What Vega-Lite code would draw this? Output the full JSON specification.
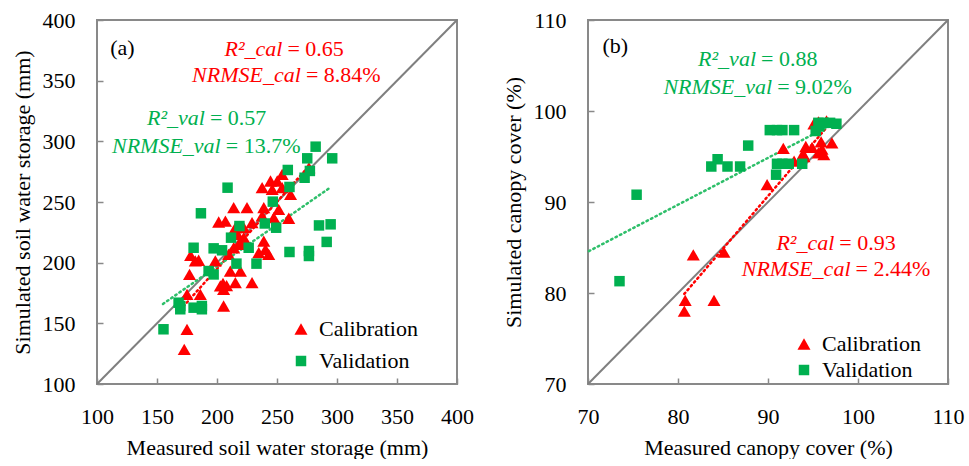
{
  "$schema": "https://vega.github.io/schema/vega-lite/v6.json",
  "padding": {"left": 10, "top": 8, "right": 0, "bottom": 0},
  "background": "white",
  "spacing": 26,
  "config": {
    "font": "Times New Roman",
    "view": {"stroke": "#898989", "strokeWidth": 2},
    "text": {"font": "Times New Roman"},
    "axis": {
      "domain": false, "grid": false, "ticks": true, "labelFlush": false,
      "tickSize": -6, "tickColor": "#898989", "tickWidth": 1.5,
      "labelFont": "Times New Roman", "labelFontSize": 22, "labelColor": "#000000",
      "labelPadding": 28,
      "titleFont": "Times New Roman", "titleFontSize": 22, "titleFontWeight": "normal", "titleColor": "#000000"
    },
    "legend": {"labelFont": "Times New Roman", "labelFontSize": 22, "labelColor": "#000000"}
  },
  "datasets": {
    "a_pts": [
      {"x":172.7,"y":128.6,"type":"Calibration"},{"x":175,"y":145.1,"type":"Calibration"},{"x":175,"y":173.9,"type":"Calibration"},
      {"x":177.1,"y":190.4,"type":"Calibration"},{"x":181.9,"y":201.4,"type":"Calibration"},{"x":178,"y":206,"type":"Calibration"},
      {"x":186.1,"y":173.9,"type":"Calibration"},{"x":202.8,"y":180.8,"type":"Calibration"},{"x":205.5,"y":178,"type":"Calibration"},
      {"x":205,"y":183,"type":"Calibration"},{"x":208,"y":181,"type":"Calibration"},{"x":205.5,"y":164.3,"type":"Calibration"},
      {"x":215.3,"y":183.5,"type":"Calibration"},{"x":229.2,"y":183.5,"type":"Calibration"},{"x":211.1,"y":193.1,"type":"Calibration"},
      {"x":219.5,"y":193.1,"type":"Calibration"},{"x":198.6,"y":201.4,"type":"Calibration"},{"x":209.7,"y":206.9,"type":"Calibration"},
      {"x":213.9,"y":212.3,"type":"Calibration"},{"x":220.1,"y":215.1,"type":"Calibration"},{"x":222.3,"y":220.6,"type":"Calibration"},
      {"x":217.2,"y":223.3,"type":"Calibration"},{"x":219.5,"y":217.8,"type":"Calibration"},{"x":215.3,"y":228.8,"type":"Calibration"},
      {"x":222.3,"y":228.8,"type":"Calibration"},{"x":229.2,"y":233,"type":"Calibration"},{"x":207,"y":234.3,"type":"Calibration"},
      {"x":201.4,"y":233.5,"type":"Calibration"},{"x":213.9,"y":245.3,"type":"Calibration"},{"x":225,"y":245.3,"type":"Calibration"},
      {"x":237.6,"y":238.5,"type":"Calibration"},{"x":239,"y":245.3,"type":"Calibration"},{"x":247.3,"y":237.1,"type":"Calibration"},
      {"x":251.4,"y":243.9,"type":"Calibration"},{"x":259.8,"y":236.6,"type":"Calibration"},{"x":237.6,"y":261.8,"type":"Calibration"},
      {"x":246,"y":260.4,"type":"Calibration"},{"x":254.3,"y":261.8,"type":"Calibration"},{"x":261.3,"y":256.3,"type":"Calibration"},
      {"x":244.6,"y":267.3,"type":"Calibration"},{"x":250.2,"y":267.3,"type":"Calibration"},{"x":254.3,"y":272.7,"type":"Calibration"},
      {"x":276.6,"y":278.3,"type":"Calibration"},{"x":239,"y":217.8,"type":"Calibration"},{"x":240.4,"y":210.9,"type":"Calibration"},
      {"x":234.8,"y":208.2,"type":"Calibration"},{"x":243.1,"y":206.9,"type":"Calibration"},{"x":184.7,"y":202,"type":"Calibration"},
      {"x":155.4,"y":145.1,"type":"Validation"},{"x":169.4,"y":164.3,"type":"Validation"},{"x":169.4,"y":161.6,"type":"Validation"},
      {"x":168,"y":167,"type":"Validation"},{"x":180.5,"y":162.9,"type":"Validation"},{"x":187.4,"y":164.3,"type":"Validation"},
      {"x":187.4,"y":161.6,"type":"Validation"},{"x":180.5,"y":212.3,"type":"Validation"},{"x":197.2,"y":211.8,"type":"Validation"},
      {"x":204.2,"y":210.2,"type":"Validation"},{"x":226.4,"y":212.3,"type":"Validation"},{"x":186.6,"y":240.7,"type":"Validation"},
      {"x":193,"y":193.1,"type":"Validation"},{"x":197.2,"y":190.3,"type":"Validation"},{"x":216.2,"y":199.2,"type":"Validation"},
      {"x":232.9,"y":199.2,"type":"Validation"},{"x":211.7,"y":220.6,"type":"Validation"},{"x":218.7,"y":230.2,"type":"Validation"},
      {"x":208.8,"y":261.8,"type":"Validation"},{"x":239.8,"y":232.3,"type":"Validation"},{"x":249.3,"y":228.8,"type":"Validation"},
      {"x":246.5,"y":250.3,"type":"Validation"},{"x":260.4,"y":262.4,"type":"Validation"},{"x":259,"y":276.4,"type":"Validation"},
      {"x":273,"y":270,"type":"Validation"},{"x":277.4,"y":275.6,"type":"Validation"},{"x":275.2,"y":286,"type":"Validation"},
      {"x":282.2,"y":295.6,"type":"Validation"},{"x":296,"y":286,"type":"Validation"},{"x":285,"y":230.7,"type":"Validation"},
      {"x":294.7,"y":231.6,"type":"Validation"},{"x":291.4,"y":217.1,"type":"Validation"},{"x":260.4,"y":208.8,"type":"Validation"},
      {"x":276.6,"y":209.6,"type":"Validation"},{"x":276.6,"y":205.5,"type":"Validation"}
    ],
    "b_pts": [
      {"x":80.7,"y":78.0,"type":"Calibration"},{"x":80.8,"y":79.2,"type":"Calibration"},{"x":84.0,"y":79.2,"type":"Calibration"},
      {"x":81.7,"y":84.2,"type":"Calibration"},{"x":85.1,"y":84.5,"type":"Calibration"},{"x":89.9,"y":91.9,"type":"Calibration"},
      {"x":91.7,"y":95.9,"type":"Calibration"},{"x":92.9,"y":94.5,"type":"Calibration"},{"x":93.9,"y":95.3,"type":"Calibration"},
      {"x":94.2,"y":96.1,"type":"Calibration"},{"x":94.0,"y":95.0,"type":"Calibration"},{"x":94.9,"y":96.0,"type":"Calibration"},
      {"x":95.1,"y":98.6,"type":"Calibration"},{"x":95.6,"y":95.4,"type":"Calibration"},{"x":95.9,"y":96.6,"type":"Calibration"},
      {"x":96.2,"y":95.2,"type":"Calibration"},{"x":96.0,"y":95.8,"type":"Calibration"},{"x":97.1,"y":96.5,"type":"Calibration"},
      {"x":95.6,"y":98.8,"type":"Calibration"},{"x":96.5,"y":98.9,"type":"Calibration"},
      {"x":73.5,"y":81.3,"type":"Validation"},{"x":75.4,"y":90.8,"type":"Validation"},{"x":83.7,"y":93.9,"type":"Validation"},
      {"x":84.4,"y":94.7,"type":"Validation"},{"x":85.5,"y":93.9,"type":"Validation"},{"x":86.9,"y":93.9,"type":"Validation"},
      {"x":87.8,"y":96.2,"type":"Validation"},{"x":90.2,"y":97.9,"type":"Validation"},{"x":91.0,"y":97.9,"type":"Validation"},
      {"x":91.6,"y":97.9,"type":"Validation"},{"x":92.9,"y":97.9,"type":"Validation"},{"x":90.9,"y":93.0,"type":"Validation"},
      {"x":91.0,"y":94.2,"type":"Validation"},{"x":91.6,"y":94.2,"type":"Validation"},{"x":92.3,"y":94.2,"type":"Validation"},
      {"x":93.8,"y":94.2,"type":"Validation"},{"x":95.3,"y":97.8,"type":"Validation"},{"x":95.6,"y":98.7,"type":"Validation"},
      {"x":96.2,"y":98.7,"type":"Validation"},{"x":96.9,"y":98.7,"type":"Validation"},{"x":97.6,"y":98.6,"type":"Validation"},
      {"x":95.7,"y":98.3,"type":"Validation"}
    ],
    "a_lines": [
      {"x":100,"y":100,"s":"one"},{"x":400,"y":400,"s":"one"},
      {"x":172,"y":164,"s":"cal"},{"x":277,"y":280,"s":"cal"},
      {"x":155,"y":166,"s":"val"},{"x":293,"y":261,"s":"val"}
    ],
    "b_lines": [
      {"x":70,"y":70,"s":"one"},{"x":110,"y":110,"s":"one"},
      {"x":80.7,"y":79.9,"s":"cal"},{"x":97.3,"y":99.1,"s":"cal"},
      {"x":70.1,"y":84.6,"s":"val"},{"x":96.5,"y":98.2,"s":"val"}
    ],
    "a_txt": [
      {"x":257,"y":376,"lhs":"R²_cal","rhs":"= 0.65","g":"cal"},
      {"x":272.4,"y":354.7,"lhs":"NRMSE_cal","rhs":"= 8.84%","g":"cal"},
      {"x":192.4,"y":319.2,"lhs":"R²_val","rhs":"= 0.57","g":"val"},
      {"x":205.6,"y":296.2,"lhs":"NRMSE_val","rhs":"= 13.7%","g":"val"}
    ],
    "b_txt": [
      {"x":89.0,"y":105.7,"lhs":"R²_val","rhs":"= 0.88","g":"val"},
      {"x":90.8,"y":102.6,"lhs":"NRMSE_val","rhs":"= 9.02%","g":"val"},
      {"x":97.7,"y":85.5,"lhs":"R²_cal","rhs":"= 0.93","g":"cal"},
      {"x":99.5,"y":82.6,"lhs":"NRMSE_cal","rhs":"= 2.44%","g":"cal"}
    ],
    "a_lab": [{"x":111,"y":377,"t":"(a)"}],
    "b_lab": [{"x":71.6,"y":107.1,"t":"(b)"}]
  },
  "resolve": {
    "scale": {"color": "independent", "shape": "independent", "size": "independent"},
    "legend": {"color": "independent", "shape": "independent"}
  },
  "hconcat": [
    {
      "width": 360, "height": 364,
      "layer": [
        {
          "data": {"name": "a_lines"},
          "transform": [{"filter": "datum.s === 'one'"}],
          "mark": {"type": "line", "color": "#7F7F7F", "strokeWidth": 2},
          "encoding": {
            "x": {"field": "x", "type": "quantitative", "scale": {"domain": [100, 400], "nice": false}, "axis": {"values": [100,150,200,250,300,350,400], "title": "Measured soil water  storage (mm)", "titlePadding": 10}},
            "y": {"field": "y", "type": "quantitative", "scale": {"domain": [100, 400], "nice": false}, "axis": {"values": [100,150,200,250,300,350,400], "title": "Simulated  soil water storage (mm)", "titlePadding": 8}}
          }
        },
        {
          "data": {"name": "a_lines"},
          "transform": [{"filter": "datum.s !== 'one'"}],
          "mark": {"type": "line", "strokeWidth": 2.5, "strokeDash": [1.5, 3.5], "strokeCap": "round"},
          "encoding": {
            "x": {"field": "x", "type": "quantitative"},
            "y": {"field": "y", "type": "quantitative"},
            "detail": {"field": "s"},
            "stroke": {"field": "s", "type": "nominal", "scale": {"domain": ["cal", "val"], "range": ["#FF0000", "#2EBF6A"]}, "legend": null}
          }
        },
        {
          "data": {"name": "a_pts"},
          "mark": {"type": "point", "filled": true, "opacity": 1},
          "encoding": {
            "x": {"field": "x", "type": "quantitative"},
            "y": {"field": "y", "type": "quantitative"},
            "size": {"field": "type", "type": "nominal", "scale": {"domain": ["Calibration", "Validation"], "range": [170, 110]}, "legend": null},
            "color": {"field": "type", "type": "nominal", "scale": {"domain": ["Calibration", "Validation"], "range": ["#FF0000", "#00B050"]},
              "legend": {"title": null, "orient": "none", "legendX": 193, "legendY": 298, "rowPadding": 10, "labelOffset": 7, "symbolSize": 150, "symbolStrokeWidth": 0, "labelFont": "Times New Roman", "labelFontSize": 22}},
            "shape": {"field": "type", "type": "nominal", "scale": {"domain": ["Calibration", "Validation"], "range": ["triangle-up", "square"]},
              "legend": {"title": null, "orient": "none", "legendX": 193, "legendY": 298, "rowPadding": 10, "labelOffset": 7, "symbolSize": 150, "symbolStrokeWidth": 0, "labelFont": "Times New Roman", "labelFontSize": 22}}
          }
        },
        {
          "data": {"name": "a_txt"},
          "mark": {"type": "text", "align": "right", "baseline": "middle", "fontStyle": "italic", "fontSize": 22, "dx": -3, "font": "Times New Roman"},
          "encoding": {
            "x": {"field": "x", "type": "quantitative"},
            "y": {"field": "y", "type": "quantitative"},
            "text": {"field": "lhs"},
            "fill": {"field": "g", "type": "nominal", "scale": {"domain": ["cal", "val"], "range": ["#FF0000", "#00B050"]}, "legend": null}
          }
        },
        {
          "data": {"name": "a_txt"},
          "mark": {"type": "text", "align": "left", "baseline": "middle", "fontSize": 22, "dx": 2, "font": "Times New Roman"},
          "encoding": {
            "x": {"field": "x", "type": "quantitative"},
            "y": {"field": "y", "type": "quantitative"},
            "text": {"field": "rhs"},
            "fill": {"field": "g", "type": "nominal", "scale": {"domain": ["cal", "val"], "range": ["#FF0000", "#00B050"]}, "legend": null}
          }
        },
        {
          "data": {"name": "a_lab"},
          "mark": {"type": "text", "align": "left", "baseline": "middle", "fontSize": 22, "color": "#000000", "font": "Times New Roman"},
          "encoding": {
            "x": {"field": "x", "type": "quantitative"},
            "y": {"field": "y", "type": "quantitative"},
            "text": {"field": "t"}
          }
        }
      ]
    },
    {
      "width": 360, "height": 364,
      "layer": [
        {
          "data": {"name": "b_lines"},
          "transform": [{"filter": "datum.s === 'one'"}],
          "mark": {"type": "line", "color": "#7F7F7F", "strokeWidth": 2},
          "encoding": {
            "x": {"field": "x", "type": "quantitative", "scale": {"domain": [70, 110], "nice": false}, "axis": {"values": [70,80,90,100,110], "title": "Measured  canopy cover (%)", "titlePadding": 10}},
            "y": {"field": "y", "type": "quantitative", "scale": {"domain": [70, 110], "nice": false}, "axis": {"values": [70,80,90,100,110], "title": "Simulated  canopy cover (%)", "titlePadding": 8}}
          }
        },
        {
          "data": {"name": "b_lines"},
          "transform": [{"filter": "datum.s !== 'one'"}],
          "mark": {"type": "line", "strokeWidth": 2.5, "strokeDash": [1.5, 3.5], "strokeCap": "round"},
          "encoding": {
            "x": {"field": "x", "type": "quantitative"},
            "y": {"field": "y", "type": "quantitative"},
            "detail": {"field": "s"},
            "stroke": {"field": "s", "type": "nominal", "scale": {"domain": ["cal", "val"], "range": ["#FF0000", "#2EBF6A"]}, "legend": null}
          }
        },
        {
          "data": {"name": "b_pts"},
          "mark": {"type": "point", "filled": true, "opacity": 1},
          "encoding": {
            "x": {"field": "x", "type": "quantitative"},
            "y": {"field": "y", "type": "quantitative"},
            "size": {"field": "type", "type": "nominal", "scale": {"domain": ["Calibration", "Validation"], "range": [170, 110]}, "legend": null},
            "color": {"field": "type", "type": "nominal", "scale": {"domain": ["Calibration", "Validation"], "range": ["#FF0000", "#00B050"]},
              "legend": {"title": null, "orient": "none", "legendX": 205, "legendY": 313, "rowPadding": 4, "labelOffset": 7, "symbolSize": 150, "symbolStrokeWidth": 0, "labelFont": "Times New Roman", "labelFontSize": 22}},
            "shape": {"field": "type", "type": "nominal", "scale": {"domain": ["Calibration", "Validation"], "range": ["triangle-up", "square"]},
              "legend": {"title": null, "orient": "none", "legendX": 205, "legendY": 313, "rowPadding": 4, "labelOffset": 7, "symbolSize": 150, "symbolStrokeWidth": 0, "labelFont": "Times New Roman", "labelFontSize": 22}}
          }
        },
        {
          "data": {"name": "b_txt"},
          "mark": {"type": "text", "align": "right", "baseline": "middle", "fontStyle": "italic", "fontSize": 22, "dx": -3, "font": "Times New Roman"},
          "encoding": {
            "x": {"field": "x", "type": "quantitative"},
            "y": {"field": "y", "type": "quantitative"},
            "text": {"field": "lhs"},
            "fill": {"field": "g", "type": "nominal", "scale": {"domain": ["cal", "val"], "range": ["#FF0000", "#00B050"]}, "legend": null}
          }
        },
        {
          "data": {"name": "b_txt"},
          "mark": {"type": "text", "align": "left", "baseline": "middle", "fontSize": 22, "dx": 2, "font": "Times New Roman"},
          "encoding": {
            "x": {"field": "x", "type": "quantitative"},
            "y": {"field": "y", "type": "quantitative"},
            "text": {"field": "rhs"},
            "fill": {"field": "g", "type": "nominal", "scale": {"domain": ["cal", "val"], "range": ["#FF0000", "#00B050"]}, "legend": null}
          }
        },
        {
          "data": {"name": "b_lab"},
          "mark": {"type": "text", "align": "left", "baseline": "middle", "fontSize": 22, "color": "#000000", "font": "Times New Roman"},
          "encoding": {
            "x": {"field": "x", "type": "quantitative"},
            "y": {"field": "y", "type": "quantitative"},
            "text": {"field": "t"}
          }
        }
      ]
    }
  ]
}
